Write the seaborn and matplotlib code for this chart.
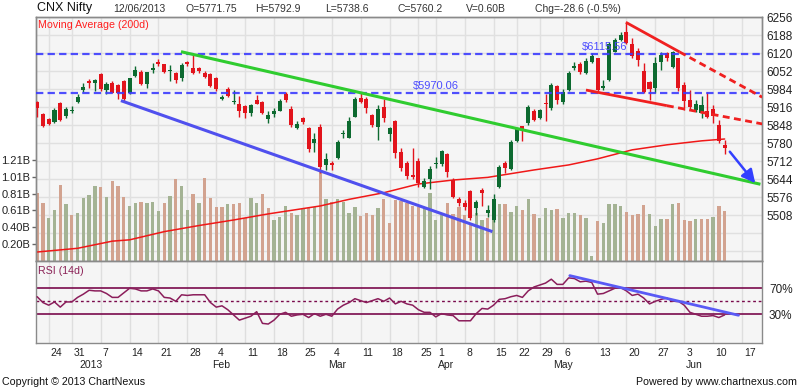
import numpy as np
import pandas as pd
import matplotlib
matplotlib.use('Agg')
import matplotlib.pyplot as plt
import matplotlib.transforms as mtransforms
import seaborn as sns

# NSE trading calendar; data ends 12 Jun, the axis runs on to 21 Jun
holidays = ['2012-12-25', '2013-03-27', '2013-03-29', '2013-04-19', '2013-04-24', '2013-05-01']
extra_sessions = ['2013-05-11']
calendar = pd.bdate_range('2012-12-20', '2013-06-21')
calendar = calendar.drop(pd.to_datetime(holidays)).append(pd.to_datetime(extra_sessions)).sort_values()

opens = [5937, 5891, 5872, 5862, 5933, 5883, 5901, 5937, 5981, 6017,
         6009, 6042, 5981, 6008, 5999, 6014, 5969, 6034, 6051, 6003,
         6057, 6088, 6078, 6052, 6046, 6025, 6088, 6066, 6064, 6047,
         6040, 6027, 5946, 5986, 5935, 5928, 5921, 5893, 5944, 5937,
         5871, 5891, 5902, 5966, 5908, 5837, 5874, 5839, 5782, 5840,
         5698, 5704, 5723, 5815, 5801, 5881, 5950, 5946, 5887, 5840,
         5918, 5814, 5864, 5745, 5707, 5660, 5711, 5616, 5644, 5700,
         5700, 5738, 5641, 5568, 5553, 5601, 5534, 5604, 5515, 5490,
         5616, 5707, 5682, 5789, 5845, 5855, 5902, 5877, 5931, 5912,
         5998, 5935, 5981, 6063, 6078, 6044, 6088, 6101, 5990, 6019,
         6126, 6170, 6202, 6154, 6129, 6053, 6013, 5988, 6086, 6122,
         6069, 6101, 6000, 5943, 5906, 5893, 5902, 5908, 5849, 5771.75]
highs = [5940, 5893, 5874, 5912, 5935, 5918, 5921, 5966, 6009, 6022,
         6024, 6044, 6010, 6015, 6004, 6019, 6028, 6070, 6057, 6051,
         6082, 6098, 6080, 6076, 6048, 6082, 6091, 6114, 6069, 6053,
         6044, 6032, 5961, 5994, 5981, 5959, 5925, 5927, 5962, 5940,
         5903, 5912, 5946, 5975, 5921, 5864, 5881, 5843, 5818, 5852,
         5742, 5711, 5792, 5830, 5881, 5956, 5971, 5956, 5891, 5925,
         5946, 5840, 5868, 5761, 5711, 5761, 5723, 5648, 5694, 5727,
         5755, 5742, 5648, 5578, 5566, 5604, 5566, 5610, 5547, 5588,
         5698, 5711, 5792, 5839, 5845, 5925, 5908, 5908, 5965, 6007,
         6000, 5985, 6053, 6086, 6088, 6101, 6120, 6103, 6019, 6161,
         6179, 6199, 6233, 6179, 6141, 6082, 6015, 6104, 6124, 6126,
         6129, 6103, 6013, 5981, 5943, 5959, 5972, 5924, 5868, 5792.9]
lows = [5881, 5840, 5848, 5858, 5864, 5877, 5896, 5933, 5975, 5988,
        5979, 5979, 5966, 5969, 5946, 5937, 5965, 6029, 6000, 5988,
        6044, 6073, 6044, 6015, 6007, 6015, 6070, 6041, 6044, 6025,
        5994, 5979, 5944, 5954, 5928, 5881, 5877, 5883, 5927, 5891,
        5855, 5881, 5900, 5937, 5843, 5833, 5853, 5748, 5748, 5669,
        5679, 5677, 5721, 5799, 5799, 5878, 5931, 5893, 5840, 5792,
        5862, 5790, 5723, 5675, 5644, 5644, 5616, 5610, 5606, 5685,
        5694, 5651, 5572, 5541, 5528, 5490, 5509, 5541, 5503, 5484,
        5610, 5667, 5679, 5786, 5789, 5849, 5864, 5870, 5864, 5906,
        5927, 5927, 5979, 6057, 6040, 6040, 6085, 5975, 5981, 6016,
        6124, 6166, 6155, 6101, 6073, 5969, 5943, 5969, 6057, 6091,
        6066, 5978, 5906, 5906, 5899, 5874, 5874, 5855, 5780, 5738.6]
closes = [5915, 5847, 5854, 5906, 5868, 5910, 5907, 5954, 5994, 6009,
          6020, 5986, 6005, 5971, 5969, 5949, 6025, 6057, 6003, 6048,
          6063, 6080, 6048, 6056, 6018, 6076, 6078, 6046, 6053, 6032,
          5996, 5985, 5954, 5957, 5940, 5903, 5896, 5925, 5928, 5896,
          5886, 5900, 5940, 5944, 5849, 5853, 5859, 5760, 5796, 5692,
          5721, 5697, 5786, 5817, 5864, 5946, 5937, 5912, 5849, 5908,
          5874, 5836, 5742, 5688, 5657, 5651, 5629, 5639, 5682, 5704,
          5751, 5673, 5576, 5553, 5538, 5496, 5557, 5593, 5528, 5568,
          5689, 5686, 5786, 5837, 5830, 5917, 5868, 5906, 5927, 6000,
          5943, 5975, 6044, 6072, 6048, 6092, 6110, 5981, 5996, 6154,
          6170, 6189, 6158, 6111, 6095, 5975, 5985, 6082, 6114, 6103,
          6126, 5988, 5940, 5918, 5927, 5924, 5881, 5883, 5788.8, 5760.2]
volumes = [0.81, 0.70, 0.52, 0.61, 0.91, 0.68, 0.55, 0.58, 0.76, 0.79,
           0.90, 0.89, 0.77, 0.96, 0.90, 0.77, 0.66, 0.70, 0.71, 0.69,
           0.71, 0.60, 0.69, 0.78, 0.98, 0.90, 0.61, 0.80, 0.70, 1.00,
           0.76, 0.65, 0.65, 0.68, 0.68, 0.70, 0.51, 0.76, 0.70, 0.80,
           0.64, 0.49, 0.53, 0.66, 0.58, 0.55, 0.62, 0.63, 0.65, 1.09,
           0.74, 0.71, 0.74, 0.71, 0.58, 0.65, 0.54, 0.58, 0.55, 0.64,
           0.74, 0.46, 0.73, 0.72, 0.69, 0.66, 0.65, 0.64, 0.82, 0.49,
           0.55, 0.70, 0.56, 0.65, 0.55, 0.44, 0.58, 0.49, 0.51, 0.59,
           0.68, 0.68, 0.59, 0.66, 0.61, 0.74, 0.56, 0.52, 0.64, 0.61,
           0.62, 0.51, 0.57, 0.57, 0.55, 0.51, 0.06, 0.48, 0.46, 0.68,
           0.68, 0.66, 0.59, 0.55, 0.56, 0.67, 0.56, 0.42, 0.50, 0.50,
           0.68, 0.70, 0.49, 0.48, 0.50, 0.50, 0.50, 0.53, 0.66, 0.60]
rsi = [57, 48, 44, 49, 41, 49, 49, 56, 61, 67,
       66, 66, 62, 56, 56, 63, 70, 69, 66, 66,
       69, 66, 56, 55, 50, 60, 59, 60, 60, 60,
       48, 41, 43, 37, 29, 21, 24, 27, 34, 16,
       15, 21, 30, 33, 27, 29, 30, 25, 31, 27,
       30, 27, 38, 44, 48, 54, 51, 48, 51, 54,
       50, 55, 46, 50, 46, 44, 37, 33, 33, 26,
       31, 29, 28, 20, 20, 20, 31, 39, 38, 44,
       53, 54, 57, 59, 56, 66, 72, 75, 78, 84,
       76, 76, 86, 85, 80, 81, 79, 61, 62, 66,
       70, 71, 66, 59, 61, 55, 46, 50, 53, 55,
       50, 50, 44, 33, 30, 27, 27, 28, 25, 29]
ma_idx = [0, 7, 13, 16, 22, 28, 34, 40, 49, 54, 60, 66, 72, 78, 86, 92, 97, 103, 109, 115, 119]
ma_val = [5369, 5383, 5410, 5415, 5446, 5469, 5490, 5513, 5543, 5568, 5593,
          5626, 5641, 5651, 5679, 5698, 5721, 5755, 5774, 5789, 5796]

# drawn studies (index, price)
resist_levels = [6115.56, 5970.06]
resist_label_idx = [94.3, 65.1]
green_x, green_y = [24.9, 125.2], [6126, 5625]
blue_x, blue_y = [14.5, 78.8], [5941, 5446]
red_top_x, red_top_y = [101.9, 111.2, 125.5], [6237, 6125, 5954]
red_bot_x, red_bot_y = [95.0, 109.0, 125.5], [5981, 5922, 5853]
arrow_from, arrow_to = (119.9, 5748), (124.3, 5629)
rsi_trend_x, rsi_trend_y = [92.2, 121.4], [89.5, 28.5]

price_ticks = list(range(5372, 6257, 68))
vol_ticks = [0.202, 0.404, 0.606, 0.808, 1.010, 1.212]
vol_labels = ['0.20B', '0.40B', '0.61B', '0.81B', '1.01B', '1.21B']

sns.set_style('white')
plt.rcParams['font.family'] = ['Liberation Sans', 'DejaVu Sans']

opens, highs, lows, closes = map(np.array, (opens, highs, lows, closes))
volumes = np.array(volumes)
idx = np.arange(len(closes))
mondays = [i for i, d in enumerate(calendar) if d.weekday() == 0]
month_starts = [i for i in range(1, len(calendar)) if calendar[i].month != calendar[i - 1].month]

W, H = 800, 388
def box(l, t, r, b):
    return [l / W, 1 - b / H, (r - l) / W, (b - t) / H]

fig = plt.figure(figsize=(8, 3.88), dpi=100)
ax_vol = fig.add_axes(box(36, 17, 762, 261))
ax_rsi = fig.add_axes(box(36, 261, 762, 343))
ax = ax_vol.twinx()
xlim = (-0.2, 125.47)

# ---- volume (left scale) ----
ax_vol.set_facecolor('#f5f5f5')
prev = np.r_[opens[0], closes[:-1]]
vol_col = np.where(closes >= prev, '#a4b394', '#d2a390')
ax_vol.bar(idx, volumes, width=0.58, color=vol_col, lw=0, zorder=2)
ax_vol.set_xlim(*xlim)
ax_vol.set_ylim(0, 2.923)
ax_vol.set_yticks(vol_ticks, vol_labels)
ax_vol.tick_params(axis='y', length=3, width=1, color='#666666', pad=1, labelsize=8, labelcolor='#222222')
ax_vol.set_xticks(mondays)
ax_vol.tick_params(axis='x', length=0, labelbottom=False)
ax_vol.grid(axis='x', color='#e0e0e0', lw=1)
ax_vol.grid(axis='y', visible=False)
ax_vol.set_axisbelow(True)
grid_tf = mtransforms.blended_transform_factory(ax_vol.transAxes, ax.transData)
for p in price_ticks:
    ax_vol.plot([0, 1], [p, p], transform=grid_tf, color='#e0e0e0', lw=1, zorder=0.5)

# ---- price (right scale) ----
up = closes >= opens
candle_col = np.where(up, '#0d6a30', '#e2141c')
ax.vlines(idx, lows, highs, colors=candle_col, lw=1, zorder=3)
ax.bar(idx, np.maximum(np.abs(closes - opens), 3), bottom=np.minimum(opens, closes),
       width=0.7, color=candle_col, lw=0, zorder=3)
sns.lineplot(x=ma_idx, y=ma_val, ax=ax, color='#f01818', lw=1.1, zorder=2.5)

for lvl, li in zip(resist_levels, resist_label_idx):
    ax.axhline(lvl, color='#3c3cff', lw=1.6, dashes=(3.3, 1.9), alpha=0.9, zorder=4)
    ax.annotate('\\$%.2f' % lvl, (li, lvl), xytext=(0, 1.5), textcoords='offset points',
                va='bottom', ha='left', color='#4b4bff', fontsize=8, zorder=4)
ax.plot(green_x, green_y, color='#2fcc2f', lw=2.2, zorder=4, solid_capstyle='butt')
ax.plot(blue_x, blue_y, color='#5050ee', lw=2.2, zorder=4, solid_capstyle='butt')
for xs, ys in ((red_top_x, red_top_y), (red_bot_x, red_bot_y)):
    ax.plot(xs[:2], ys[:2], color='#f02020', lw=2, zorder=4, solid_capstyle='butt')
    ax.plot(xs[1:], ys[1:], color='#f02020', lw=2, dashes=(2.5, 1.6), zorder=4)
ax.annotate('', xy=arrow_to, xytext=arrow_from,
            arrowprops=dict(arrowstyle='-|>', color='#3340ff', lw=1.8, mutation_scale=20, shrinkA=0, shrinkB=0),
            zorder=5)

ax.set_ylim(5335, 6257)
ax.set_yticks(price_ticks, [str(p) if p >= 5508 else '' for p in price_ticks])
ax.tick_params(axis='y', length=0, pad=3, labelsize=8.5, labelcolor='#222222')
ax.set_xlabel('')
ax.set_ylabel('')
for a in (ax_vol, ax):
    for s in a.spines.values():
        s.set_color('#8a8a8a')
        s.set_linewidth(1)

# ---- RSI ----
ax_rsi.set_facecolor('#f5f5f5')
sns.lineplot(x=idx, y=rsi, ax=ax_rsi, color='#8b1e5b', lw=1.1, zorder=3)
for lvl in (70, 30):
    ax_rsi.axhline(lvl, color='#7a0a4c', lw=1.2, zorder=2)
ax_rsi.axhline(50, color='#7a0a4c', lw=1, ls=(0, (2, 2)), zorder=2)
ax_rsi.plot(rsi_trend_x, rsi_trend_y, color='#5a5af5', lw=2, zorder=4)
ax_rsi.set_xlim(*xlim)
ax_rsi.set_ylim(-14.2, 112)
ax_rsi.yaxis.tick_right()
ax_rsi.set_yticks([70, 30], ['70%', '30%'])
ax_rsi.tick_params(axis='y', length=0, pad=5, labelsize=8.5, labelcolor='#222222')
ax_rsi.set_xticks(mondays)
ax_rsi.set_xticks(month_starts, minor=True)
ax_rsi.tick_params(axis='x', which='major', length=10, width=1, color='#777777', labelbottom=False)
ax_rsi.tick_params(axis='x', which='minor', length=21, width=1, color='#777777', labelbottom=False)
ax_rsi.grid(axis='x', which='major', color='#dedede', lw=1)
ax_rsi.set_axisbelow(True)
ax_rsi.set_xlabel('')
ax_rsi.set_ylabel('')
for s in ax_rsi.spines.values():
    s.set_color('#8a8a8a')
    s.set_linewidth(1)

lab_tf = mtransforms.offset_copy(ax_rsi.get_xaxis_transform(), fig=fig, x=2, y=0, units='dots')
for m in mondays:
    ax_rsi.text(m, -0.118, str(calendar[m].day), transform=lab_tf, ha='left', va='center',
                fontsize=7.5, color='#222222')
for m in month_starts:
    name = str(calendar[m].year) if calendar[m].month == 1 else calendar[m].strftime('%b')
    ax_rsi.text(m, -0.268, name, transform=lab_tf, ha='left', va='center', fontsize=7.5, color='#222222')

# ---- header / footer text ----
def ftext(x, y, s, **kw):
    fig.text(x / W, 1 - y / H, s, va='center', **kw)

last = len(closes) - 1
chg = closes[last] - closes[last - 1]
ftext(37, 8.5, 'CNX Nifty', fontsize=9, color='#111111')
head = [(113, calendar[last].strftime('%d/%m/%Y')),
        (185, 'O=%g' % opens[last]),
        (255, 'H=%g' % highs[last]),
        (325, 'L=%g' % lows[last]),
        (397, 'C=%g' % closes[last]),
        (466, 'V=%.2fB' % volumes[last]),
        (535, 'Chg=%.1f (%.1f%%)' % (chg, chg / closes[last - 1] * 100))]
for x, s in head:
    ftext(x, 9, s, fontsize=7.5, color='#333333')
ftext(38, 25.5, 'Moving Average (200d)', fontsize=7.7, color='#ff1f1f')
ftext(38, 271, 'RSI (14d)', fontsize=7.7, color='#8b2257')
ftext(2, 382, 'Copyright © 2013 ChartNexus', fontsize=7.7, color='#111111')
ftext(797, 382, 'Powered by www.chartnexus.com', fontsize=7.7, color='#111111', ha='right')

fig.savefig('out.png', dpi=100, facecolor='white')
